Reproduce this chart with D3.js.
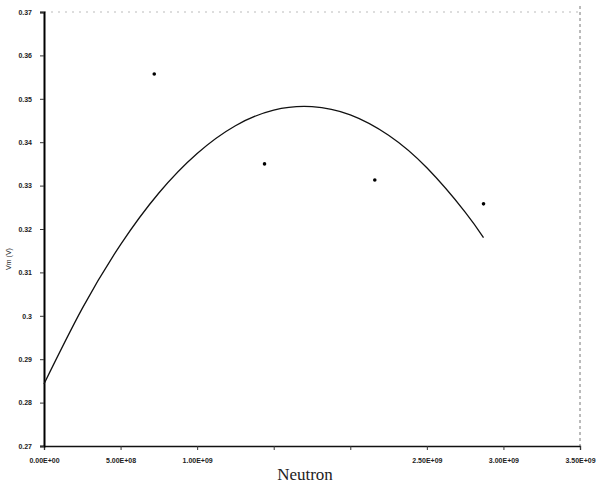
<!DOCTYPE html>
<html><head><meta charset="utf-8">
<script src="https://cdn.jsdelivr.net/npm/d3@7"></script>
<style>body{margin:0;background:#fff}svg{display:block}</style>
</head><body>
<script>
// Data (x in neutrons, y in volts)
const pointX = [0.72e9, 1.44e9, 2.16e9, 2.87e9];
const pointY = [0.3557, 0.3350, 0.3313, 0.3258];
// Trendline
const trendX = [0, 0.25e9, 0.5e9, 0.75e9, 1.0e9, 1.25e9, 1.5e9, 1.75e9, 2.0e9, 2.25e9, 2.5e9, 2.75e9, 2.87e9];
const trendY = [0.2843, 0.3017, 0.3164, 0.3283, 0.3374, 0.3438, 0.3474, 0.3482, 0.3463, 0.3416, 0.3341, 0.3239, 0.3180];
const xTicks = [0, 0.5e9, 1.0e9, 1.5e9, 2.0e9, 2.5e9, 3.0e9, 3.5e9];
const xTickLabels = ["0.00E+00", "5.00E+08", "1.00E+09", "", "", "2.50E+09", "3.00E+09", "3.50E+09"];
const yTicks = [0.27, 0.28, 0.29, 0.30, 0.31, 0.32, 0.33, 0.34, 0.35, 0.36, 0.37];
const yTickLabels = ["0.27", "0.28", "0.29", "0.3", "0.31", "0.32", "0.33", "0.34", "0.35", "0.36", "0.37"];
const xTitle = "Neutron";
const yTitle = "Vm (V)";

const W = 598, H = 491;
const m = {left: 44, right: 18, top: 12, bottom: 45};
const svg = d3.select("body").append("svg").attr("width", W).attr("height", H);
const x = d3.scaleLinear().domain([0, 3.5e9]).range([m.left, W - m.right]);
const y = d3.scaleLinear().domain([0.27, 0.37]).range([H - m.bottom, m.top]);

// top dotted border and right dashed border
svg.append("line").attr("x1", x(0)).attr("x2", x(3.5e9)).attr("y1", y(0.37)).attr("y2", y(0.37))
  .attr("stroke", "#bbb").attr("stroke-width", 1).attr("stroke-dasharray", "2,5");
svg.append("line").attr("x1", x(3.5e9)).attr("x2", x(3.5e9)).attr("y1", y(0.37) - 6).attr("y2", y(0.27))
  .attr("stroke", "#777").attr("stroke-width", 1).attr("stroke-dasharray", "3,3");

const font = "'Liberation Sans Narrow', 'Liberation Sans', Arial, sans-serif";

const xAxis = svg.append("g").attr("transform", `translate(0,${y(0.27)})`)
  .call(d3.axisBottom(x).tickValues(xTicks).tickSize(4).tickPadding(8)
    .tickFormat((d, i) => xTickLabels[i]));
const yAxis = svg.append("g").attr("transform", `translate(${x(0)},0)`)
  .call(d3.axisLeft(y).tickValues(yTicks).tickSize(4).tickPadding(8)
    .tickFormat((d, i) => yTickLabels[i]));
[xAxis, yAxis].forEach(g => {
  g.selectAll("text").attr("font-family", font).attr("font-size", 7).attr("fill", "#222").attr("font-weight", "bold");
  g.selectAll("line").attr("stroke", "#333");
});
xAxis.select(".domain").attr("stroke", "#111").attr("stroke-width", 1.3);
yAxis.select(".domain").attr("stroke", "#000").attr("stroke-width", 2);

// trendline
const trend = trendX.map((d, i) => [d, trendY[i]]);
svg.append("path").datum(trend)
  .attr("d", d3.line().x(d => x(d[0])).y(d => y(d[1])).curve(d3.curveNatural))
  .attr("fill", "none").attr("stroke", "#111").attr("stroke-width", 1.3);

// points
svg.append("g").selectAll("circle").data(pointX.map((d, i) => [d, pointY[i]])).join("circle")
  .attr("cx", d => x(d[0])).attr("cy", d => y(d[1])).attr("r", 1.8).attr("fill", "#000");

// titles
svg.append("text").attr("x", 305).attr("y", 480).attr("text-anchor", "middle")
  .attr("font-family", "'Liberation Serif', 'DejaVu Serif', serif").attr("font-size", 17).attr("fill", "#222")
  .text(xTitle);
svg.append("text").attr("transform", `translate(11,${(y(0.37) + y(0.27)) / 2 + 30}) rotate(-90)`)
  .attr("text-anchor", "middle").attr("font-family", font).attr("font-size", 7).attr("fill", "#222")
  .text(yTitle);
</script>
</body></html>
